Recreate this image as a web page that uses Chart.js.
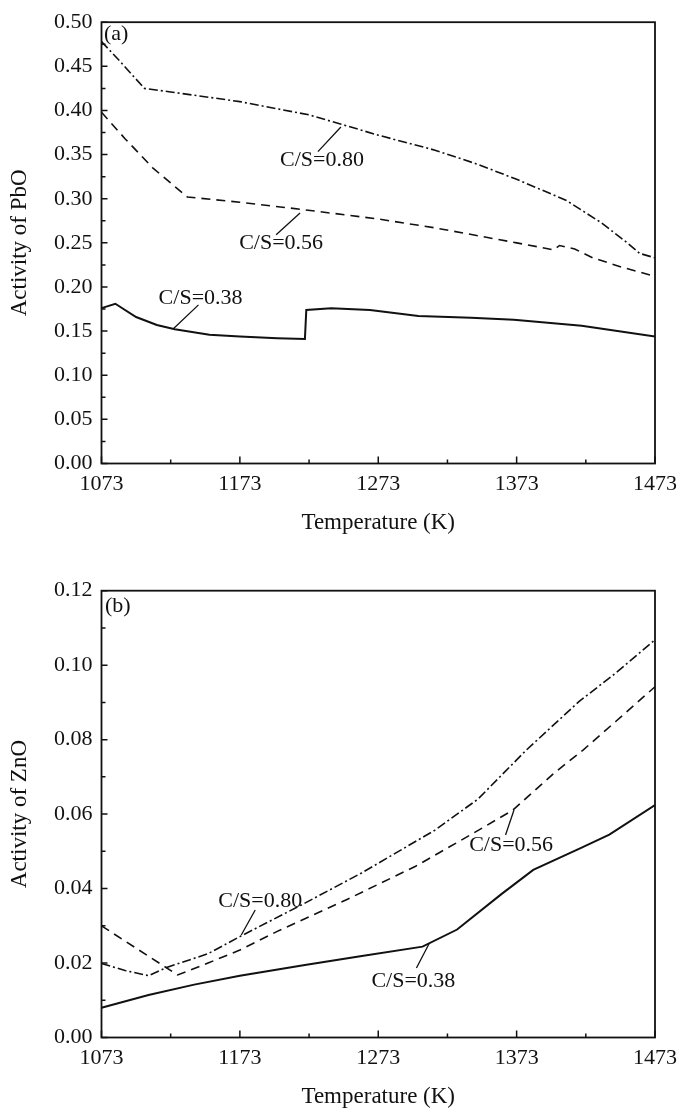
<!DOCTYPE html>
<html>
<head>
<meta charset="utf-8">
<script src="https://cdn.jsdelivr.net/npm/chart.js@4.4.0/dist/chart.umd.min.js"></script>
<style>
  html, body { margin: 0; padding: 0; background: #fff; overflow: hidden; }
  .box { position: absolute; left: 0; width: 685px; }
  #boxA { top: 0; height: 545px; }
  #boxB { top: 545px; height: 568px; }
</style>
</head>
<body>
<div class="box" id="boxA"><canvas id="chartA"></canvas></div>
<div class="box" id="boxB"><canvas id="chartB"></canvas></div>
<script>
// tick labels
const tempTicks = [1073, 1173, 1273, 1373, 1473];
const pbTicks = [0, 0.05, 0.10, 0.15, 0.20, 0.25, 0.30, 0.35, 0.40, 0.45, 0.50];
const znTicks = [0, 0.02, 0.04, 0.06, 0.08, 0.10, 0.12];

// (a) activity of PbO
const pbTemp38 = [1073, 1083, 1098, 1113, 1126, 1151, 1173, 1200, 1220, 1221, 1239, 1267, 1302, 1340, 1371, 1420, 1473];
const pbAct38  = [0.176, 0.181, 0.166, 0.157, 0.152, 0.146, 0.144, 0.142, 0.141, 0.174, 0.176, 0.174, 0.167, 0.165, 0.163, 0.156, 0.144];
const pbTemp56 = [1073, 1090, 1110, 1135, 1173, 1217, 1273, 1314, 1373, 1400, 1404, 1415, 1428, 1450, 1473];
const pbAct56  = [0.398, 0.368, 0.335, 0.302, 0.296, 0.288, 0.277, 0.267, 0.250, 0.242, 0.247, 0.243, 0.233, 0.222, 0.212];
const pbTemp80 = [1073, 1085, 1104, 1123, 1173, 1223, 1245, 1273, 1314, 1343, 1373, 1409, 1434, 1453, 1462, 1473];
const pbAct80  = [0.478, 0.458, 0.425, 0.421, 0.410, 0.395, 0.385, 0.372, 0.355, 0.340, 0.322, 0.298, 0.273, 0.250, 0.238, 0.233];

// (b) activity of ZnO
const znTemp38 = [1073, 1107, 1140, 1173, 1220, 1260, 1305, 1330, 1362, 1385, 1420, 1440, 1473];
const znAct38  = [0.0080, 0.0114, 0.0142, 0.0166, 0.0195, 0.0218, 0.0244, 0.0290, 0.0385, 0.0450, 0.0510, 0.0545, 0.0624];
const znTemp56 = [1073, 1100, 1128, 1150, 1173, 1200, 1250, 1300, 1340, 1370, 1400, 1421, 1445, 1473];
const znAct56  = [0.0300, 0.0235, 0.0168, 0.0200, 0.0235, 0.0285, 0.0370, 0.0460, 0.0545, 0.0610, 0.0710, 0.0772, 0.0850, 0.0942];
const znTemp80 = [1073, 1090, 1107, 1120, 1150, 1173, 1220, 1261, 1314, 1345, 1380, 1418, 1445, 1473];
const znAct80  = [0.0199, 0.0180, 0.0166, 0.0188, 0.0225, 0.0271, 0.0361, 0.0442, 0.0557, 0.0640, 0.0772, 0.0902, 0.0980, 0.1068];

const ink = '#111';
Chart.defaults.font.family = '"Liberation Serif", "Times New Roman", serif';
Chart.defaults.color = ink;

const DASH = [9, 6];
const DASHDOT = [9, 3, 2, 3];

function pts(xs, ys) {
  return xs.map((t, i) => ({x: t, y: ys[i]}));
}

function series(label, xs, ys, dash, width) {
  return {
    label: label,
    data: pts(xs, ys),
    showLine: true,
    borderColor: ink,
    borderWidth: width,
    borderDash: dash,
    pointRadius: 0,
    tension: 0,
    fill: false
  };
}

// frame, inward ticks, leader lines and labels
const decor = {
  id: 'decor',
  afterDraw(chart, args, opts) {
    const {ctx, chartArea: a} = chart;
    const x = chart.scales.x, y = chart.scales.y;
    ctx.save();
    ctx.strokeStyle = ink;
    ctx.lineWidth = 1.8;
    ctx.strokeRect(a.left, a.top, a.right - a.left, a.bottom - a.top);

    ctx.lineWidth = 1.5;
    ctx.beginPath();
    x.ticks.forEach((t, i) => {
      const px = x.getPixelForValue(t.value);
      ctx.moveTo(px, a.bottom); ctx.lineTo(px, a.bottom - 7);
      if (i < x.ticks.length - 1) {
        const mx = x.getPixelForValue((t.value + x.ticks[i + 1].value) / 2);
        ctx.moveTo(mx, a.bottom); ctx.lineTo(mx, a.bottom - 4);
      }
    });
    y.ticks.forEach((t, i) => {
      const py = y.getPixelForValue(t.value);
      ctx.moveTo(a.left, py); ctx.lineTo(a.left + 6, py);
      if (i < y.ticks.length - 1) {
        const my = y.getPixelForValue((t.value + y.ticks[i + 1].value) / 2);
        ctx.moveTo(a.left, my); ctx.lineTo(a.left + 4, my);
      }
    });
    ctx.stroke();

    ctx.lineWidth = 1.3;
    ctx.beginPath();
    opts.leaders.forEach(l => {
      ctx.moveTo(x.getPixelForValue(l[0]), y.getPixelForValue(l[1]));
      ctx.lineTo(x.getPixelForValue(l[2]), y.getPixelForValue(l[3]));
    });
    ctx.stroke();

    ctx.fillStyle = ink;
    ctx.font = '22px "Liberation Serif", serif';
    ctx.textBaseline = 'middle';
    opts.notes.forEach(n => {
      ctx.textAlign = n.align || 'center';
      ctx.fillText(n.text, x.getPixelForValue(n.t), y.getPixelForValue(n.v));
    });
    ctx.restore();
  }
};

function makeChart(id, datasets, yTicks, yMax, yTitle, padTop, xHeight, xTitlePad, notes, leaders) {
  return new Chart(id, {
    type: 'scatter',
    data: {datasets: datasets},
    plugins: [decor],
    options: {
      responsive: true,
      maintainAspectRatio: false,
      animation: false,
      devicePixelRatio: 1,
      layout: {padding: {top: padTop, right: 27.3, left: 0, bottom: 0}},
      plugins: {
        legend: {display: false},
        tooltip: {enabled: false},
        decor: {notes: notes, leaders: leaders}
      },
      scales: {
        x: {
          type: 'linear',
          min: 1073,
          max: 1473,
          afterBuildTicks: s => { s.ticks = tempTicks.map(v => ({value: v})); },
          afterFit: s => { s.height = xHeight; },
          grid: {display: false, drawTicks: false},
          border: {display: false},
          ticks: {padding: 8, maxRotation: 0, autoSkip: false, font: {size: 22}, callback: v => String(v)},
          title: {display: true, text: 'Temperature (K)', font: {size: 23}, padding: {top: 0, bottom: xTitlePad}}
        },
        y: {
          type: 'linear',
          min: 0,
          max: yMax,
          afterBuildTicks: s => { s.ticks = yTicks.map(v => ({value: v})); },
          afterFit: s => { s.width = 101.5; },
          grid: {display: false, drawTicks: false},
          border: {display: false},
          ticks: {padding: 9, autoSkip: false, font: {size: 22}, callback: v => v.toFixed(2)},
          title: {display: true, text: yTitle, font: {size: 23}, padding: {top: 6, bottom: 0}}
        }
      }
    }
  });
}

makeChart('chartA', [
    series('C/S=0.38', pbTemp38, pbAct38, [], 2),
    series('C/S=0.56', pbTemp56, pbAct56, DASH, 1.6),
    series('C/S=0.80', pbTemp80, pbAct80, DASHDOT, 1.6)
  ], pbTicks, 0.5, 'Activity of PbO', 17, 81.5, 8.7,
  [
    {text: '(a)', t: 1074.8, v: 0.4865, align: 'left'},
    {text: 'C/S=0.80', t: 1232.3, v: 0.3432},
    {text: 'C/S=0.56', t: 1202.8, v: 0.2492},
    {text: 'C/S=0.38', t: 1144.6, v: 0.1876}
  ],
  [
    [1246, 0.3813, 1229.4, 0.3533],
    [1216.5, 0.2839, 1199.2, 0.2592],
    [1143.1, 0.1797, 1125.1, 0.1529]
  ]);

makeChart('chartB', [
    series('C/S=0.38', znTemp38, znAct38, [], 2),
    series('C/S=0.56', znTemp56, znAct56, DASH, 1.6),
    series('C/S=0.80', znTemp80, znAct80, DASHDOT, 1.6)
  ], znTicks, 0.12, 'Activity of ZnO', 45.7, 75.5, 2.2,
  [
    {text: '(b)', t: 1075.5, v: 0.1159, align: 'left'},
    {text: 'C/S=0.80', t: 1187.7, v: 0.03667},
    {text: 'C/S=0.56', t: 1369, v: 0.0517},
    {text: 'C/S=0.38', t: 1298.4, v: 0.01518}
  ],
  [
    [1184.1, 0.03425, 1174, 0.02753],
    [1371.1, 0.0611, 1365, 0.0544],
    [1310, 0.02538, 1300.6, 0.01867]
  ]);
</script>
</body>
</html>
